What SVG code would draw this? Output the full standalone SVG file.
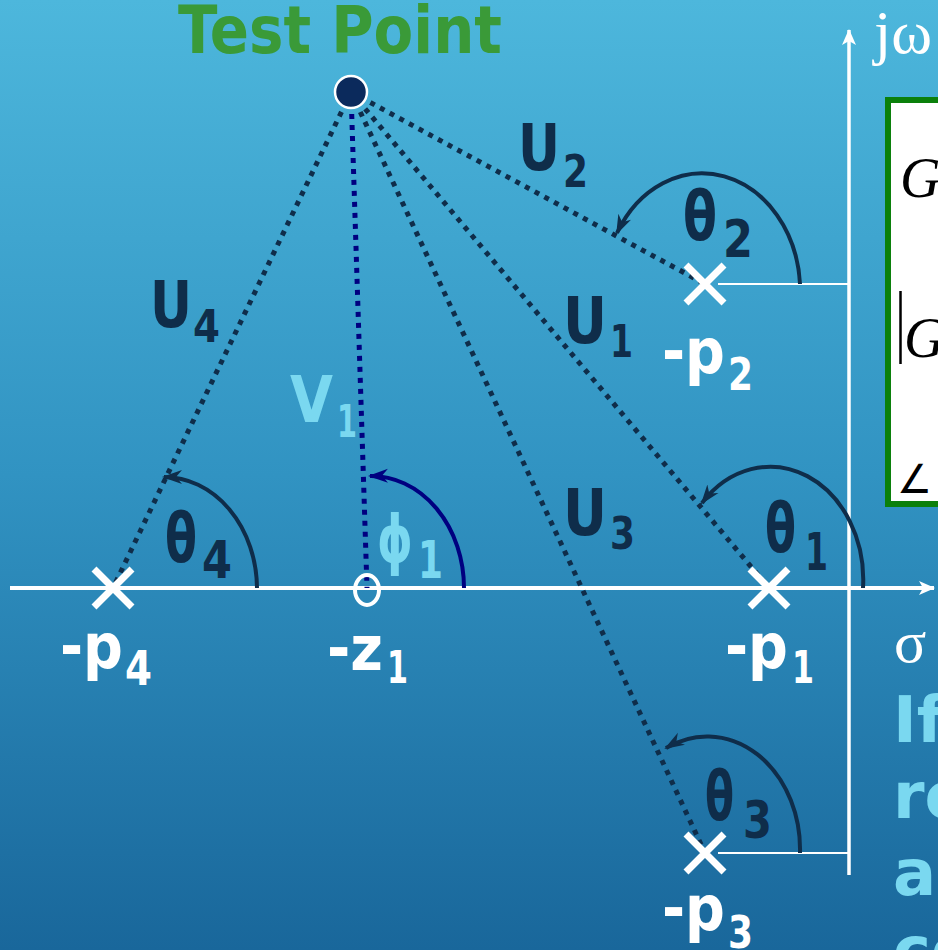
<svg xmlns="http://www.w3.org/2000/svg" width="938" height="950" viewBox="0 0 938 950">
<defs>
<linearGradient id="bg" x1="0" y1="0" x2="0" y2="1">
<stop offset="0" stop-color="#4db7dc"/>
<stop offset="0.5" stop-color="#3193c2"/>
<stop offset="1" stop-color="#19679b"/>
</linearGradient>
<marker id="ahd" markerUnits="userSpaceOnUse" markerWidth="20" markerHeight="16" viewBox="0 0 20 16" refX="18" refY="8" orient="auto">
<path d="M0,1 L20,8 L0,15 L6,8 z" fill="#0f2d4a"/>
</marker>
<marker id="ahn" markerUnits="userSpaceOnUse" markerWidth="20" markerHeight="16" viewBox="0 0 20 16" refX="18" refY="8" orient="auto">
<path d="M0,1 L20,8 L0,15 L6,8 z" fill="#000080"/>
</marker>
<marker id="ahw" markerUnits="userSpaceOnUse" markerWidth="16" markerHeight="14" viewBox="0 0 16 14" refX="15" refY="7" orient="auto">
<path d="M0,0 L16,7 L0,14 L4,7 z" fill="#ffffff"/>
</marker>
</defs>
<style>
.lbl{font-family:"DejaVu Sans","Liberation Sans",sans-serif;font-weight:bold;}
.dark{fill:#0f2d4a;}
.cyan{fill:#7ad8f0;}
.wht{fill:#ffffff;}
.dot{fill:none;stroke:#0f2d4a;stroke-width:5;stroke-dasharray:5 6;}
.dotn{fill:none;stroke:#000080;stroke-width:5;stroke-dasharray:5 6;}
.arc{fill:none;stroke:#0f2d4a;stroke-width:4;marker-end:url(#ahd);}
.arcn{fill:none;stroke:#000080;stroke-width:4;marker-end:url(#ahn);}
.ax{stroke:#ffffff;fill:none;}
.xm{stroke:#ffffff;stroke-width:7;fill:none;}
.serif{font-family:"Liberation Serif","DejaVu Serif",serif;}
</style>
<rect x="0" y="0" width="938" height="950" fill="url(#bg)"/>

<g id="axes">
<line class="ax" x1="10" y1="588" x2="934" y2="588" stroke-width="4" marker-end="url(#ahw)"/>
<line class="ax" x1="849" y1="875" x2="849" y2="30" stroke-width="3.5" marker-end="url(#ahw)"/>
<line class="ax" x1="718" y1="284" x2="849" y2="284" stroke-width="2"/>
<line class="ax" x1="718" y1="853" x2="849" y2="853" stroke-width="2"/>
<text class="serif wht" x="874" y="53" font-size="62">jω</text>
<text class="serif wht" x="894" y="662" font-size="60">σ</text>
</g>

<g id="formula-box">
<rect x="888" y="100" width="80" height="404" fill="#ffffff" stroke="#0b800b" stroke-width="6"/>
<text class="serif" x="900" y="197" font-size="56" font-style="italic" fill="#000">G</text>
<line x1="900.5" y1="291" x2="900.5" y2="364" stroke="#000" stroke-width="2.5"/>
<text class="serif" x="904" y="357" font-size="56" font-style="italic" fill="#000">G</text>
<text x="897" y="493" font-size="40" fill="#000" font-family="DejaVu Sans,sans-serif" textLength="35" lengthAdjust="spacingAndGlyphs">∠</text>
</g>

<g id="connectors">
<line class="dot" x1="351" y1="92" x2="113" y2="588"/>
<line class="dotn" x1="351" y1="92" x2="367" y2="588"/>
<line class="dot" x1="351" y1="92" x2="705" y2="853"/>
<line class="dot" x1="351" y1="92" x2="769" y2="588"/>
<line class="dot" x1="351" y1="92" x2="705" y2="284"/>
<path class="arc" d="M257,588 A93,112 0 0 0 164,477"/>
<path class="arcn" d="M464,588 A93,112 0 0 0 370,476"/>
<path class="arc" d="M863,588 A93,113 0 0 0 702,503"/>
<path class="arc" d="M800,284 A98,118 0 0 0 617,233"/>
<path class="arc" d="M800,853 A93,113 0 0 0 666,748"/>
</g>

<g id="test-point">
<text class="lbl" x="178" y="53" font-size="66" fill="#3a9a38" textLength="324" lengthAdjust="spacingAndGlyphs">Test Point</text>
<circle cx="351" cy="92" r="16" fill="#0b2a5c" stroke="#ffffff" stroke-width="2.5"/>
</g>

<g id="p4">
<path class="xm" d="M94,569 L132,607 M132,569 L94,607"/>
<text class="lbl wht" x="60" y="668" font-size="62" textLength="63" lengthAdjust="spacingAndGlyphs">-p</text>
<text class="lbl wht" x="125" y="685" font-size="48" textLength="27" lengthAdjust="spacingAndGlyphs">4</text>
</g>

<g id="z1">
<ellipse cx="367" cy="590" rx="12" ry="15" fill="none" stroke="#ffffff" stroke-width="4"/>
<text class="lbl wht" x="327" y="670" font-size="62" textLength="56" lengthAdjust="spacingAndGlyphs">-z</text>
<text class="lbl wht" x="387" y="683" font-size="44" textLength="21" lengthAdjust="spacingAndGlyphs">1</text>
</g>

<g id="p1">
<path class="xm" d="M750,569 L788,607 M788,569 L750,607"/>
<text class="lbl wht" x="725" y="668" font-size="62" textLength="63" lengthAdjust="spacingAndGlyphs">-p</text>
<text class="lbl wht" x="792" y="683" font-size="44" textLength="22" lengthAdjust="spacingAndGlyphs">1</text>
</g>

<g id="p2">
<path class="xm" d="M686,265 L724,303 M724,265 L686,303"/>
<text class="lbl wht" x="662" y="373" font-size="62" textLength="63" lengthAdjust="spacingAndGlyphs">-p</text>
<text class="lbl wht" x="728" y="390" font-size="44" textLength="25" lengthAdjust="spacingAndGlyphs">2</text>
</g>

<g id="p3">
<path class="xm" d="M686,834 L724,872 M724,834 L686,872"/>
<text class="lbl wht" x="662" y="930" font-size="62" textLength="63" lengthAdjust="spacingAndGlyphs">-p</text>
<text class="lbl wht" x="728" y="948" font-size="44" textLength="25" lengthAdjust="spacingAndGlyphs">3</text>
</g>

<g id="labels">
<text class="lbl dark" x="518" y="170" font-size="64" textLength="42" lengthAdjust="spacingAndGlyphs">U</text>
<text class="lbl dark" x="563" y="187" font-size="44" textLength="25" lengthAdjust="spacingAndGlyphs">2</text>
<text class="lbl dark" x="150" y="327" font-size="64" textLength="42" lengthAdjust="spacingAndGlyphs">U</text>
<text class="lbl dark" x="193" y="342" font-size="44" textLength="27" lengthAdjust="spacingAndGlyphs">4</text>
<text class="lbl dark" x="563" y="343" font-size="64" textLength="44" lengthAdjust="spacingAndGlyphs">U</text>
<text class="lbl dark" x="610" y="357" font-size="44" textLength="23" lengthAdjust="spacingAndGlyphs">1</text>
<text class="lbl dark" x="563" y="535" font-size="64" textLength="44" lengthAdjust="spacingAndGlyphs">U</text>
<text class="lbl dark" x="610" y="549" font-size="44" textLength="25" lengthAdjust="spacingAndGlyphs">3</text>
<text class="lbl cyan" x="290" y="422" font-size="64" textLength="43" lengthAdjust="spacingAndGlyphs">V</text>
<text class="lbl cyan" x="337" y="437" font-size="44" textLength="20" lengthAdjust="spacingAndGlyphs">1</text>

<text class="lbl dark" x="683" y="240" font-size="68" textLength="34" lengthAdjust="spacingAndGlyphs">θ</text>
<text class="lbl dark" x="723" y="257" font-size="52" textLength="30" lengthAdjust="spacingAndGlyphs">2</text>
<text class="lbl dark" x="765" y="552" font-size="68" textLength="31" lengthAdjust="spacingAndGlyphs">θ</text>
<text class="lbl dark" x="805" y="570" font-size="52" textLength="23" lengthAdjust="spacingAndGlyphs">1</text>
<text class="lbl dark" x="165" y="562" font-size="68" textLength="32" lengthAdjust="spacingAndGlyphs">θ</text>
<text class="lbl dark" x="202" y="578" font-size="52" textLength="30" lengthAdjust="spacingAndGlyphs">4</text>
<text class="lbl dark" x="705" y="820" font-size="68" textLength="29" lengthAdjust="spacingAndGlyphs">θ</text>
<text class="lbl dark" x="743" y="838" font-size="52" textLength="29" lengthAdjust="spacingAndGlyphs">3</text>
<text class="lbl cyan" x="377" y="562" font-size="66" textLength="36" lengthAdjust="spacingAndGlyphs">ϕ</text>
<text class="lbl cyan" x="418" y="578" font-size="52" textLength="25" lengthAdjust="spacingAndGlyphs">1</text>
</g>

<g id="side-text">
<text class="lbl cyan" x="893" y="742" font-size="64">If</text>
<text class="lbl cyan" x="893" y="818" font-size="64">ro</text>
<text class="lbl cyan" x="893" y="895" font-size="64">an</text>
<text class="lbl cyan" x="893" y="972" font-size="64">co</text>
</g>
</svg>
